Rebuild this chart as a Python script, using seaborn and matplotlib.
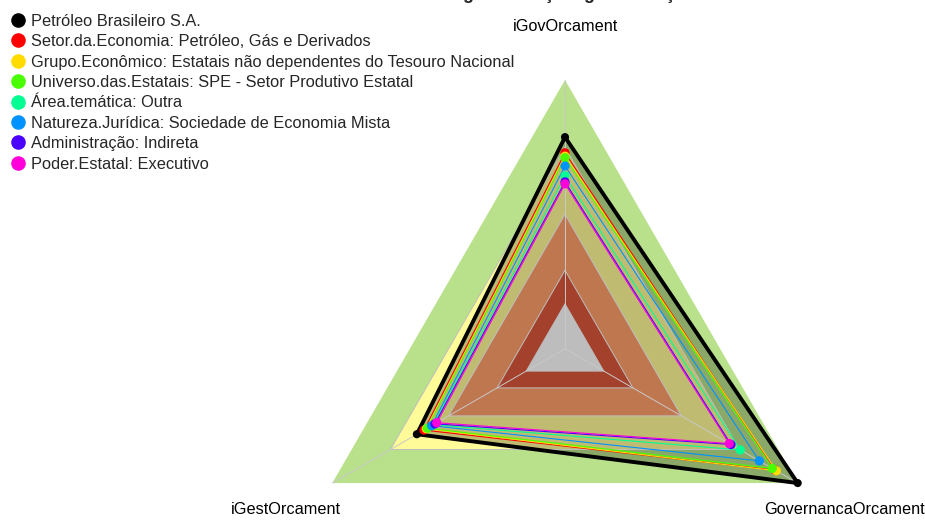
import numpy as np
import pandas as pd
import matplotlib
matplotlib.use("Agg")
import matplotlib.pyplot as plt
from matplotlib.lines import Line2D
import seaborn as sns

# Indicator axes, clockwise from the top
eixos = ["iGovOrcament", "GovernancaOrcament", "iGestOrcament"]

# Compared groups
series = [
    "Petróleo Brasileiro S.A.",
    "Setor.da.Economia: Petróleo, Gás e Derivados",
    "Grupo.Econômico: Estatais não dependentes do Tesouro Nacional",
    "Universo.das.Estatais: SPE - Setor Produtivo Estatal",
    "Área.temática: Outra",
    "Natureza.Jurídica: Sociedade de Economia Mista",
    "Administração: Indireta",
    "Poder.Estatal: Executivo",
]

# Index values per axis, one entry per group
igov_orcament = [0.745, 0.675, 0.660, 0.653, 0.572, 0.616, 0.545, 0.536]
governanca_orcament = [1.000, 0.885, 0.890, 0.869, 0.704, 0.802, 0.656, 0.647]
igest_orcament = [0.564, 0.527, 0.515, 0.510, 0.479, 0.488, 0.471, 0.461]

# Capability bands (upper limits) and the radial scale
limites_faixas = [0.0, 0.15, 0.40, 0.70, 1.0]
escala = (-0.2, 1.0)

titulo = "Índice de governança e gestão orçamentária"

cores_series = ["#000000", "#FF0000", "#FFDB00", "#49FF00",
                "#00FF92", "#0092FF", "#4900FF", "#FF00DB"]
cores_faixas = ["#FDFDFD", "#DC573C", "#FFA06B", "#FFFB98", "#B9E18C"]

sns.set_theme(style="white")
plt.rcParams["font.family"] = ["Liberation Sans", "DejaVu Sans"]

W, H, DPI = 925, 521, 100
fig = plt.figure(figsize=(W / DPI, H / DPI), dpi=DPI)
ax = fig.add_axes([0, 0, 1, 1])

# pixel placement of the radar: centre and unit radius
cx, cy, R = 565.0, 348.7, 268.7
ax.set_xlim(-cx / R, (W - cx) / R)
ax.set_ylim(-(H - cy) / R, cy / R)
ax.set_aspect("equal")
ax.axis("off")

angulos = np.deg2rad([90, -30, 210])


def raio(v):
    return (np.asarray(v, dtype=float) - escala[0]) / (escala[1] - escala[0])


def poligono(valores):
    r = raio(valores)
    xs = r * np.cos(angulos)
    ys = r * np.sin(angulos)
    return np.append(xs, xs[0]), np.append(ys, ys[0])


# bands, outermost first
for lim, cor in reversed(list(zip(limites_faixas, cores_faixas))):
    xs, ys = poligono([lim] * 3)
    ax.fill(xs, ys, color=cor, lw=0, zorder=1)

# long table of values
registros = []
for i, nome in enumerate(series):
    vals = [igov_orcament[i], governanca_orcament[i], igest_orcament[i]]
    r = raio(vals)
    for j, eixo in enumerate(eixos):
        registros.append({"serie": nome, "eixo": eixo, "valor": vals[j],
                          "x": r[j] * np.cos(angulos[j]),
                          "y": r[j] * np.sin(angulos[j])})
df = pd.DataFrame(registros)

# shaded area of the first group
v0 = df[df["serie"] == series[0]]["valor"].to_numpy()
xs, ys = poligono(v0)
ax.fill(xs, ys, color="black", alpha=0.25, lw=0, zorder=2)

# grid rings (inner band limits) and spokes
for lim in limites_faixas[:-1]:
    xs, ys = poligono([lim] * 3)
    ax.plot(xs, ys, color="#BEBEBE", lw=0.7, zorder=3)
for a in angulos:
    ax.plot([0, np.cos(a)], [0, np.sin(a)], color="#C8C8C8", lw=0.7, zorder=3)

# outlines
for i, nome in enumerate(series):
    v = df[df["serie"] == nome]["valor"].to_numpy()
    xs, ys = poligono(v)
    ax.plot(xs, ys, color=cores_series[i], lw=2.8 if i == 0 else 0.8,
            zorder=4)

# vertex markers
paleta = dict(zip(series, cores_series))
tamanhos = {nome: (34 if i == 0 else 44) for i, nome in enumerate(series)}
sns.scatterplot(data=df, x="x", y="y", hue="serie", palette=paleta,
                size="serie", sizes=tamanhos, linewidth=0, legend=False,
                ax=ax, zorder=5)
ax.set_xlabel("")
ax.set_ylabel("")

# axis labels
for eixo, a in zip(eixos, angulos):
    ax.text(1.2 * np.cos(a), 1.2 * np.sin(a), eixo, ha="center", va="center",
            fontsize=11.7, color="black")

# legend
handles = [Line2D([], [], marker="o", ls="none", markersize=10.5,
                  markerfacecolor=c, markeredgewidth=0) for c in cores_series]
fig.legend(handles, series, loc="upper left",
           bbox_to_anchor=(5 / W, 1 - 8 / H),
           frameon=False, fontsize=11.8, handlelength=0.9, handletextpad=0.35,
           labelspacing=0.33, borderpad=0.35, borderaxespad=0.0)

# title sits above the top edge
fig.text(570 / W, 1 + 0.6 / H, titulo, ha="center", va="baseline",
         fontsize=13, fontweight="bold")

fig.savefig("out.png", dpi=DPI)
